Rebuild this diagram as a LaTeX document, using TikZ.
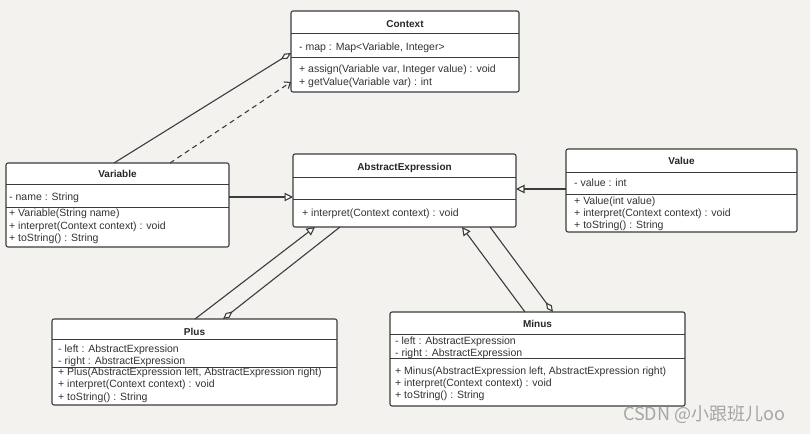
\documentclass[tikz,border=0pt]{standalone}
\usepackage{fontspec}
\setmainfont{Liberation Sans}
\newfontfamily\cjkfont{Noto Sans CJK SC}
\usetikzlibrary{arrows.meta}
\definecolor{bgc}{RGB}{243,242,239}
\definecolor{lnc}{RGB}{60,60,60}
\definecolor{wmc}{RGB}{165,165,165}
\tikzset{
  cls/.style={draw=lnc, line width=1.1pt, fill=white, rounded corners=2pt, inner sep=0pt, outer sep=0pt, anchor=north west},
  sepl/.style={draw=lnc, line width=1pt},
  ttl/.style={font=\fontsize{10}{12}\selectfont\bfseries, text=black!85, inner sep=0pt, anchor=base},
  txt/.style={font=\fontsize{10.5}{12}\selectfont, text=black!80, inner sep=0pt, anchor=base west},
  conn/.style={draw=lnc, line width=1.1pt},
  gen/.style={conn, -{Triangle[open, length=8.5pt, width=8.5pt, fill=white]}},
  agg/.style={conn, -{Diamond[open, length=12pt, width=6pt, fill=white]}},
  dep/.style={conn, dashed, dash pattern=on 5pt off 4pt, -{Straight Barb[length=5pt, width=8pt]}},
}
\begin{document}
\begin{tikzpicture}[x=1pt, y=-1pt]
\fill[bgc] (0,0) rectangle (810,434);
\useasboundingbox (0,0) rectangle (810,434);

% Context
\node[cls, minimum width=228pt, minimum height=81pt] (ctx) at (291,11) {};
\draw[sepl] (291,33) -- (519,33);
\draw[sepl] (291,57) -- (519,57);
\node[ttl] (ctxt) at (405,27) {Context};
\node[txt] (ctxa) at (299,50) {- map : Map<Variable, Integer>};
\node[txt] (ctxm1) at (299,72) {+ assign(Variable var, Integer value) : void};
\node[txt] (ctxm2) at (299,85) {+ getValue(Variable var) : int};

% Variable
\node[cls, minimum width=223pt, minimum height=84pt] (var) at (6,163) {};
\draw[sepl] (6,184) -- (229,184);
\draw[sepl] (6,207) -- (229,207);
\node[ttl] (vart) at (117.5,177.5) {Variable};
\node[txt] (vara) at (9,200) {- name : String};
\node[txt] (varm1) at (9,216) {+ Variable(String name)};
\node[txt] (varm2) at (9,229) {+ interpret(Context context) : void};
\node[txt] (varm3) at (9,241) {+ toString() : String};

% AbstractExpression
\node[cls, minimum width=223pt, minimum height=73pt] (ae) at (293,154) {};
\draw[sepl] (293,177) -- (516,177);
\draw[sepl] (293,199) -- (516,199);
\node[ttl] (aet) at (404.5,170) {AbstractExpression};
\node[txt] (aem1) at (302,216.5) {+ interpret(Context context) : void};

% Value
\node[cls, minimum width=231pt, minimum height=83pt] (val) at (566,149) {};
\draw[sepl] (566,172) -- (797,172);
\draw[sepl] (566,194) -- (797,194);
\node[ttl] (valt) at (681.5,164.5) {Value};
\node[txt] (vala) at (574,186.5) {- value : int};
\node[txt] (valm1) at (574,204.5) {+ Value(int value)};
\node[txt] (valm2) at (574,216.5) {+ interpret(Context context) : void};
\node[txt] (valm3) at (574,228.5) {+ toString() : String};

% Plus
\node[cls, minimum width=285pt, minimum height=86pt] (plus) at (52,319) {};
\node[ttl] (plust) at (194.5,335) {Plus};
\node[txt] (plusa1) at (58,352.5) {- left : AbstractExpression};
\node[txt] (plusa2) at (58,364.5) {- right : AbstractExpression};
\draw[sepl] (52,339) -- (337,339);
\draw[sepl] (52,367) -- (337,367);
\node[txt] (plusm1) at (58,375) {+ Plus(AbstractExpression left, AbstractExpression right)};
\node[txt] (plusm2) at (58,387.5) {+ interpret(Context context) : void};
\node[txt] (plusm3) at (58,400) {+ toString() : String};

% Minus
\node[cls, minimum width=295pt, minimum height=94pt] (minus) at (390,312) {};
\node[ttl] (minust) at (537.5,327) {Minus};
\node[txt] (minusa1) at (395,344) {- left : AbstractExpression};
\node[txt] (minusa2) at (395,356.5) {- right : AbstractExpression};
\draw[sepl] (390,334) -- (685,334);
\draw[sepl] (390,358) -- (685,358);
\node[txt] (minusm1) at (395,374) {+ Minus(AbstractExpression left, AbstractExpression right)};
\node[txt] (minusm2) at (395,386.5) {+ interpret(Context context) : void};
\node[txt] (minusm3) at (395,398) {+ toString() : String};

% connectors
\draw[agg] ([xshift=108pt]var.north west) -- ([yshift=-42pt]ctx.north west);
\draw[dep] ([xshift=164pt]var.north west) -- ([yshift=-71pt]ctx.north west);
\draw[gen] (var.east |- 0,197) -- (ae.west |- 0,197);
\draw[gen] (val.west |- 0,189) -- (ae.east |- 0,189);
\draw[gen] ([xshift=143pt]plus.north west) -- ([xshift=22pt]ae.south west);
\draw[agg] ([xshift=47pt]ae.south west) -- ([xshift=171pt]plus.north west);
\draw[gen] ([xshift=135pt]minus.north west) -- ([xshift=169pt]ae.south west);
\draw[agg] ([xshift=197pt]ae.south west) -- ([xshift=163pt]minus.north west);

% watermark
\node[font=\cjkfont\fontsize{18}{20}\selectfont, text=wmc, anchor=base west, inner sep=0pt] (wm) at (623,420) {CSDN @小跟班儿oo};
\end{tikzpicture}
\end{document}
